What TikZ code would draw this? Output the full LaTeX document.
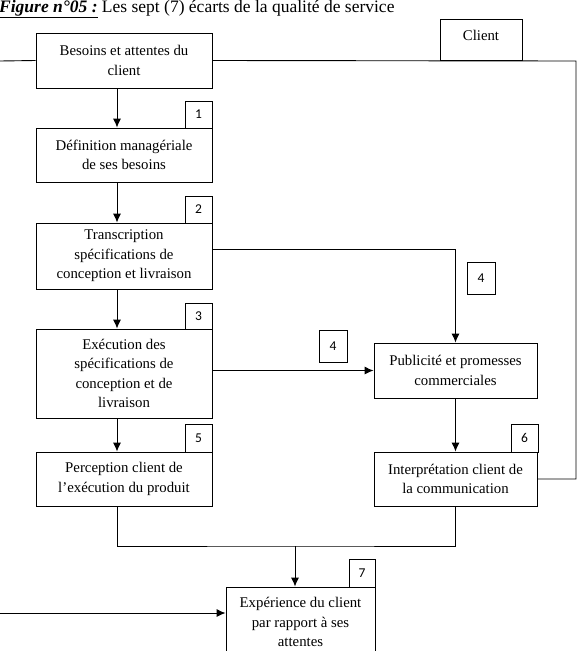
\documentclass[tikz,border=0pt]{standalone}
\usepackage{fontspec}
\setmainfont{Liberation Serif}
\newfontfamily\numfont{Carlito}
\usetikzlibrary{arrows.meta}
\begin{document}
\begin{tikzpicture}[x=1pt,y=-1pt,
  box/.style={draw, line width=0.9pt, align=center, inner sep=0pt,
    font=\fontsize{14.8}{19.5}\selectfont},
  numbox/.style={draw, line width=0.9pt, inner sep=0pt,
    font=\numfont\fontsize{13.5}{15}\selectfont},
  arr/.style={line width=0.9pt, -{Latex[length=9pt,width=8pt]}},
  ln/.style={line width=0.9pt}]
\useasboundingbox (0,0) rectangle (582,651);
% title
\node[anchor=base west, inner sep=0pt, font=\fontsize{17.5}{20}\selectfont] (title) at (-1,12.5)
  {\textbf{\textit{\underline{Figure n°05 :}}} Les sept (7) écarts de la qualité de service};
% main boxes
\node[box, minimum width=176pt, minimum height=55pt] (b1) at (124,60.5) {Besoins et attentes du\\client};
\node[box, minimum width=82pt, minimum height=41pt, anchor=south west] (client) at (440,61) {};
\node[anchor=center, inner sep=0pt, font=\fontsize{14.8}{19}\selectfont] (clientt) at (481,35) {Client};
\node[box, minimum width=176pt, minimum height=54pt] (b2) at (124,155) {Définition managériale\\de ses besoins};
\node[box, minimum width=176pt, minimum height=66pt] (b3) at (124,256) {Transcription\\spécifications de\\conception et livraison};
\node[box, minimum width=176pt, minimum height=89pt] (b4) at (124,373.5) {Exécution des\\spécifications de\\conception et de\\livraison};
\node[box, minimum width=176pt, minimum height=54pt] (b5) at (124,479) {Perception client de\\l’exécution du produit};
\node[box, minimum width=163pt, minimum height=55pt] (p) at (455.5,370.5) {Publicité et promesses\\commerciales};
\node[box, minimum width=163pt, minimum height=54pt] (i) at (455.5,479) {Interprétation client de\\la communication};
\node[box, minimum width=149pt, minimum height=70pt] (e) at (300.5,622) {Expérience du client\\par rapport à ses\\attentes};
% number boxes
\node[numbox, minimum width=27pt, minimum height=27pt] (n1) at (198.5,114.5) {1};
\node[numbox, minimum width=27pt, minimum height=27pt] (n2) at (198.5,209.5) {2};
\node[numbox, minimum width=27pt, minimum height=26pt] (n3) at (198.5,316) {3};
\node[numbox, minimum width=28pt, minimum height=32pt] (n4a) at (481,278) {4};
\node[numbox, minimum width=28pt, minimum height=32pt] (n4b) at (333,346) {4};
\node[numbox, minimum width=27pt, minimum height=28pt] (n5) at (198.5,438) {5};
\node[numbox, minimum width=27pt, minimum height=28pt] (n6) at (524.5,438) {6};
\node[numbox, minimum width=26pt, minimum height=28pt] (n7) at (362,573) {7};
% coordinates
\coordinate (L1) at (0,61);
\coordinate (R) at (576,61);
\coordinate (J) at (295,546);
\coordinate (L2) at (0,613);
% connectors
\draw[ln] (b1.west) -- (L1);
\draw[ln] (b1.east) -- (R) |- (i.east);
\draw[arr] ([xshift=-7pt]b1.south) -- ([xshift=-7pt]b2.north);
\draw[arr] ([xshift=-7pt]b2.south) -- ([xshift=-7pt]b3.north);
\draw[arr] ([xshift=-7pt]b3.south) -- ([xshift=-7pt]b4.north);
\draw[arr] ([xshift=-7pt]b4.south) -- ([xshift=-7pt]b5.north);
\draw[arr] ([yshift=7pt]b3.east) -| (p.north);
\draw[arr] (p.west -| b4.east) -- (p.west);
\draw[arr] (p.south) -- (i.north);
\draw[ln] ([xshift=-7pt]b5.south) |- (J) -| (i.south);
\draw[arr] (J) -- (J |- e.north);
\draw[arr] (L2) -- (L2 -| e.west);
\end{tikzpicture}
\end{document}
